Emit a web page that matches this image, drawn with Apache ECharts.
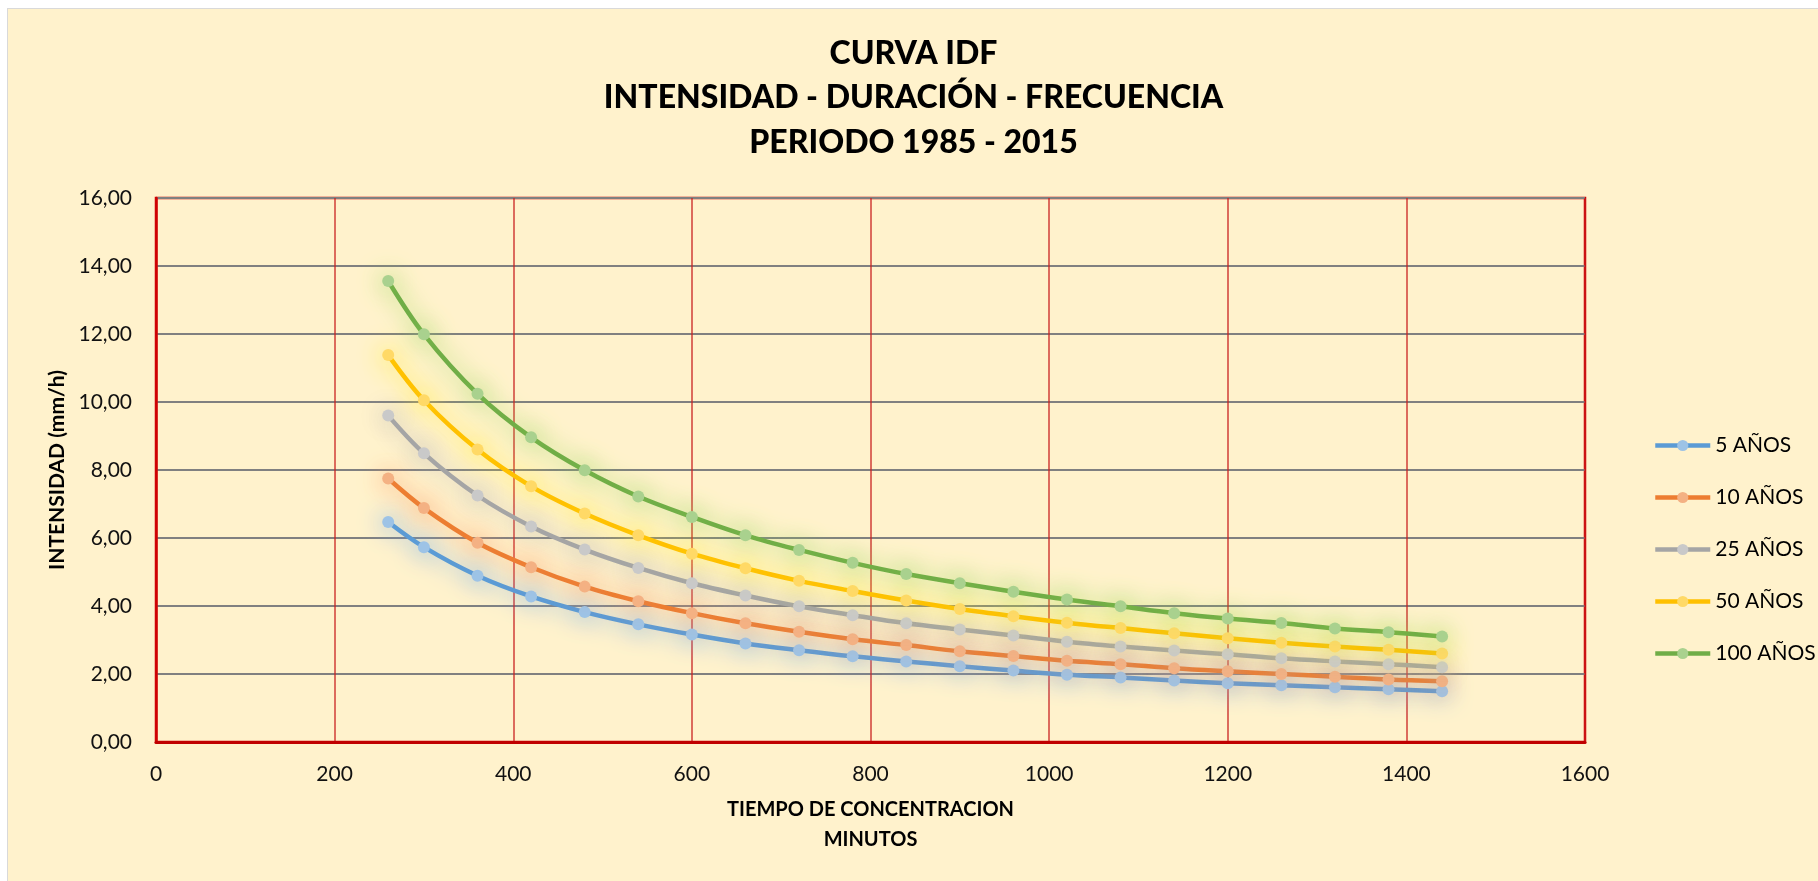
<html>
<head>
    <meta http-equiv="Content-Type" content="text/html; charset=utf-8" />
    <script type="text/javascript" src="https://cdn.jsdelivr.net/npm/echarts@6/dist/echarts.min.js"></script>
    <style>
        body { margin: 0; background: #ffffff; }
        #main { position: absolute; left: 7px; top: 8px; width: 1811px; height: 873px;
                border-left: 1px solid #d9d9d9; border-top: 1px solid #d9d9d9; background: #FFF2CC; }
    </style>
</head>
<body>
<div id="main"></div>
</body>
<script type="text/javascript">
    // duraciones (minutos)
    var duracion = [260, 300, 360, 420, 480, 540, 600, 660, 720, 780, 840, 900, 960, 1020, 1080, 1140, 1200, 1260, 1320, 1380, 1440];

    // intensidades (mm/h) por periodo de retorno
    var i5   = [6.47, 5.73, 4.89, 4.28, 3.82, 3.46, 3.16, 2.90, 2.70, 2.52, 2.37, 2.23, 2.10, 1.98, 1.90, 1.81, 1.73, 1.67, 1.61, 1.55, 1.49];
    var i10  = [7.75, 6.88, 5.86, 5.14, 4.57, 4.14, 3.79, 3.49, 3.24, 3.02, 2.85, 2.67, 2.53, 2.39, 2.29, 2.17, 2.08, 2.00, 1.92, 1.84, 1.79];
    var i25  = [9.60, 8.49, 7.25, 6.34, 5.66, 5.12, 4.67, 4.31, 3.99, 3.73, 3.49, 3.31, 3.13, 2.95, 2.81, 2.69, 2.58, 2.46, 2.37, 2.29, 2.20];
    var i50  = [11.38, 10.05, 8.60, 7.52, 6.72, 6.08, 5.54, 5.11, 4.74, 4.44, 4.16, 3.91, 3.70, 3.51, 3.35, 3.20, 3.05, 2.92, 2.81, 2.71, 2.60];
    var i100 = [13.56, 11.99, 10.24, 8.96, 7.99, 7.22, 6.62, 6.08, 5.65, 5.27, 4.94, 4.67, 4.42, 4.19, 3.99, 3.79, 3.63, 3.50, 3.34, 3.23, 3.10];

    var nombres = ['5 AÑOS', '10 AÑOS', '25 AÑOS', '50 AÑOS', '100 AÑOS'];

    // ticks de los ejes
    var xTicks = [0, 200, 400, 600, 800, 1000, 1200, 1400, 1600];
    var yTicks = [0, 2, 4, 6, 8, 10, 12, 14, 16];

    var fuente = 'Lato, "Open Sans", sans-serif';

    // colores: linea, marcador, brillo
    var estilos = [
        ['#5B9BD5', '#9DC3E6', 'rgba(110,170,235,1)'],
        ['#ED7D31', '#F4B183', 'rgba(245,150,95,1)'],
        ['#A5A5A5', '#C9C9C9', 'rgba(175,175,175,1)'],
        ['#FFC000', '#FFD966', 'rgba(255,235,40,1)'],
        ['#70AD47', '#A9D18E', 'rgba(150,215,90,1)']
    ];

    function serie(nombre, valores, k) {
        var pares = [];
        for (var i = 0; i < duracion.length; i++) {
            pares.push([duracion[i], valores[i]]);
        }
        return {
            name: nombre,
            type: 'line',
            smooth: 0.35,
            data: pares,
            symbol: 'circle',
            symbolSize: 12,
            lineStyle: { color: estilos[k][0], width: 4.5, shadowBlur: 24, shadowColor: estilos[k][2] },
            itemStyle: { color: estilos[k][1], borderWidth: 0, shadowBlur: 24, shadowColor: estilos[k][2] }
        };
    }

    var myChart = echarts.init(document.getElementById('main'));

    var option = {
        backgroundColor: '#FFF2CC',
        title: {
            text: 'CURVA IDF\nINTENSIDAD - DURACIÓN - FRECUENCIA\nPERIODO 1985 - 2015',
            left: 'center',
            top: 22,
            padding: 0,
            textStyle: { fontFamily: fuente, fontWeight: 900, fontSize: 32, lineHeight: 44.6, color: '#000', align: 'center' }
        },
        legend: {
            orient: 'vertical',
            left: 1640,
            top: 421,
            itemWidth: 55,
            itemHeight: 14,
            itemGap: 31,
            data: nombres,
            lineStyle: { width: 4.5 },
            textStyle: { fontFamily: fuente, fontSize: 21, color: '#000' }
        },
        grid: {
            left: 148,
            top: 189,
            right: 234,
            bottom: 140,
            show: true,
            borderColor: '#D00000',
            borderWidth: 2.5,
            backgroundColor: 'transparent'
        },
        xAxis: {
            type: 'value',
            min: xTicks[0],
            max: xTicks[xTicks.length - 1],
            interval: xTicks[1] - xTicks[0],
            name: 'TIEMPO DE CONCENTRACION\nMINUTOS',
            nameLocation: 'middle',
            nameGap: 53,
            nameTextStyle: { fontFamily: fuente, fontWeight: 'bold', fontSize: 20, lineHeight: 30, color: '#000' },
            axisLine: { show: true, lineStyle: { color: '#C00000', width: 3 } },
            axisTick: { show: false },
            axisLabel: {
                fontFamily: fuente, fontSize: 21, color: '#111', margin: 22,
                formatter: function (v) { return String(v); }
            },
            splitLine: { show: true, lineStyle: { color: 'rgba(200,30,30,0.85)', width: 1.5 } }
        },
        yAxis: {
            type: 'value',
            min: yTicks[0],
            max: yTicks[yTicks.length - 1],
            interval: yTicks[1] - yTicks[0],
            name: 'INTENSIDAD (mm/h)',
            nameLocation: 'middle',
            nameGap: 84,
            nameTextStyle: { fontFamily: fuente, fontWeight: 'bold', fontSize: 21, color: '#000' },
            axisLine: { show: true, lineStyle: { color: '#D00000', width: 2.5 } },
            axisTick: { show: false },
            axisLabel: {
                fontFamily: fuente, fontSize: 21, color: '#111', margin: 24,
                formatter: function (v) { return v.toFixed(2).replace('.', ','); }
            },
            splitLine: { show: true, lineStyle: { color: '#808080', width: 2 } }
        },
        series: [
            serie(nombres[0], i5, 0),
            serie(nombres[1], i10, 1),
            serie(nombres[2], i25, 2),
            serie(nombres[3], i50, 3),
            serie(nombres[4], i100, 4)
        ]
    };

    myChart.setOption(option);
</script>
</html>
